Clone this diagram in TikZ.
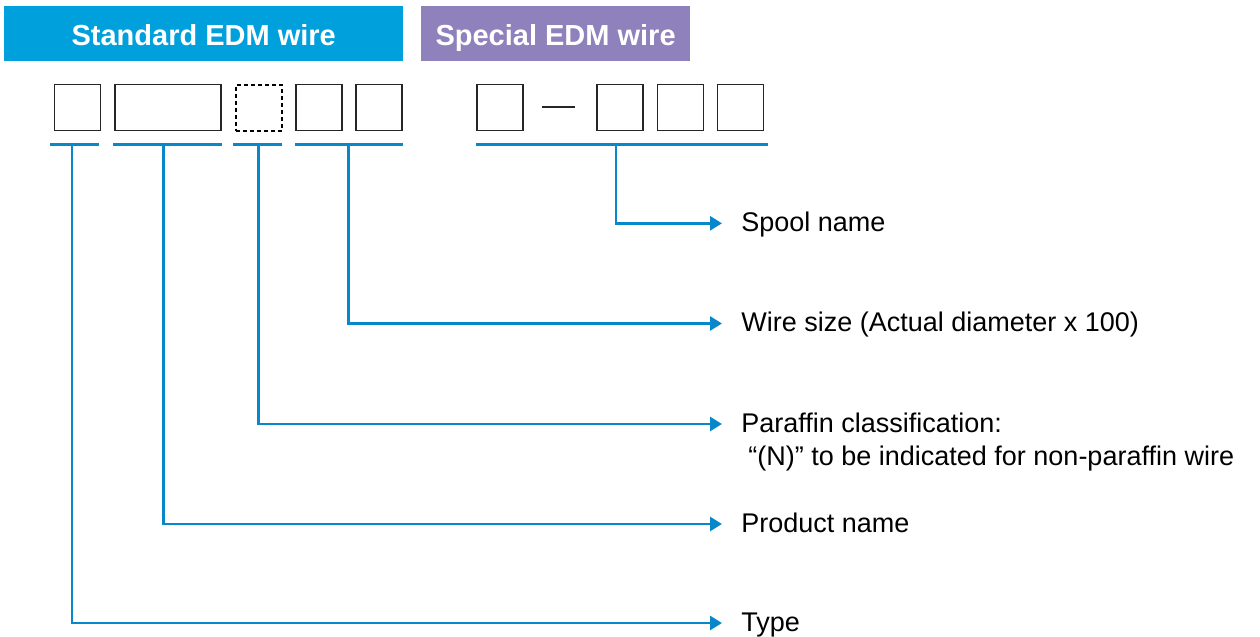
\documentclass[tikz,border=0pt]{standalone}
\usepackage{fontspec}
\setmainfont{Liberation Sans}
\usetikzlibrary{arrows.meta,calc}
\definecolor{stdblue}{RGB}{0,160,220}
\definecolor{specpurple}{RGB}{142,129,188}
\definecolor{leadblue}{RGB}{8,136,202}
\begin{document}
\begin{tikzpicture}[x=0.5pt,y=-0.5pt,
  header/.style={fill=#1, text=white, font=\bfseries\fontsize{14.5}{16}\selectfont,
    inner sep=0, anchor=north west, minimum height=27.3pt,
    text height=13pt, text depth=1.3pt},
  slot/.style={draw=black!85, line width=0.9pt, minimum height=23pt, minimum width=#1,
    inner sep=0, anchor=north west},
  slot/.default=23pt,
  under/.style={draw=leadblue, line width=1.4pt},
  lead/.style={draw=leadblue, line width=1.4pt, -{Triangle[length=6pt,width=7pt]}},
  desc/.style={font=\fontsize{13.5}{15}\selectfont, anchor=west, inner sep=0, inner xsep=9.5pt,
    text height=9.7pt, text depth=1.3pt}]

\useasboundingbox (0,0) rectangle (1260,637);

% headers
\node[header=stdblue, minimum width=199.3pt] (std) at (4,6) {Standard EDM wire};
\node[header=specpurple, minimum width=134.2pt] (spec) at (421,6) {Special EDM wire};

% code slots, standard wire
\node[slot] (s1) at (53.5,83.5) {};
\node[slot=53pt] (s2) at (114,83.5) {};
\node[slot, draw=black, line width=1pt, dash pattern=on 2pt off 1.5pt] (s3) at (234.5,83.5) {};
\node[slot] (s4) at (295,83.5) {};
\node[slot] (s5) at (355,83.5) {};

% code slots, special wire
\node[slot] (p1) at (476,83.5) {};
\node[inner sep=0, minimum width=16pt] (dash) at (558.3,106.7) {};
\draw[black!85, line width=0.9pt] (dash.west) -- (dash.east);
\node[slot] (p2) at (596,83.5) {};
\node[slot] (p3) at (656.5,83.5) {};
\node[slot] (p4) at (716.5,83.5) {};

% underlines and their lead points
\coordinate (ua) at (50,144.5);  \coordinate (ub) at (99,144.5);
\coordinate (uc) at (113,144.5); \coordinate (ud) at (222,144.5);
\coordinate (ue) at (233,144.5); \coordinate (uf) at (282,144.5);
\coordinate (ug) at (295,144.5); \coordinate (uh) at (403,144.5);
\coordinate (ui) at (476,144.5); \coordinate (uj) at (768,144.5);
\draw[under] (ua) -- (ub);
\draw[under] (uc) -- (ud);
\draw[under] (ue) -- (uf);
\draw[under] (ug) -- (uh);
\draw[under] (ui) -- (uj);
\coordinate (t1) at (72,144.5);
\coordinate (t2) at (163.3,144.5);
\coordinate (t3) at (258.3,144.5);
\coordinate (t4) at (348.3,144.5);
\coordinate (t5) at (616,144.5);

% descriptions
\node[desc] (spool) at (722,223.3) {Spool name};
\node[desc] (size) at (722,323.5) {Wire size (Actual diameter x 100)};
\node[desc] (paraffin) at (722,424) {Paraffin classification:};
\node[desc, inner xsep=0] (paraffinb) at (748,457.5) {“(N)” to be indicated for non-paraffin wire};
\node[desc] (product) at (722,524) {Product name};
\node[desc] (type) at (722,623) {Type};

% leads
\draw[lead] (t5) |- (spool.west);
\draw[lead] (t4) |- (size.west);
\draw[lead] (t3) |- (paraffin.west);
\draw[lead] (t2) |- (product.west);
\draw[lead] (t1) |- (type.west);
\end{tikzpicture}
\end{document}
